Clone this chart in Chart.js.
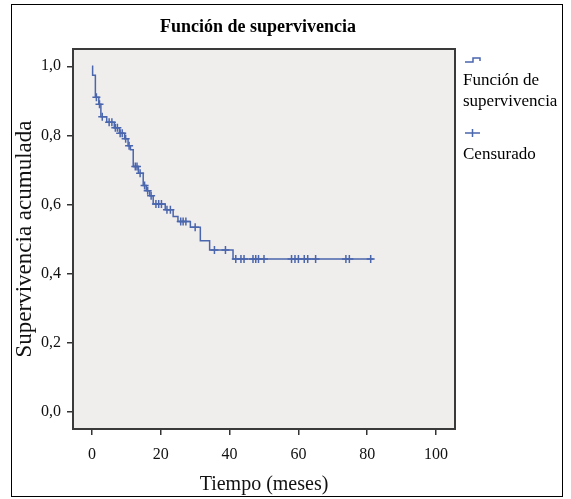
<!DOCTYPE html>
<html>
<head>
<meta charset="utf-8">
<script src="https://cdn.jsdelivr.net/npm/chart.js@4.4.0/dist/chart.umd.min.js"></script>
<style>
  html, body { margin: 0; padding: 0; background: #fff; }
  #wrap { width: 571px; height: 499px; }
</style>
</head>
<body>
<div id="wrap"><canvas id="chart" width="571" height="499"></canvas></div>
<script>
// Kaplan-Meier steps (time in months, cumulative survival)
const stepTimes = [0, 0.2, 1.0, 2.0, 2.6, 4.3, 6.5, 8.0, 9.5, 10.5, 11.2, 12.0, 13.5, 14.9, 15.8, 16.8, 17.8, 21.3, 23.6, 25.0, 28.6, 31.5, 34.2, 41.0, 81.8];
const stepSurvival = [1.0, 0.974, 0.91, 0.89, 0.854, 0.838, 0.822, 0.806, 0.79, 0.77, 0.758, 0.71, 0.69, 0.655, 0.64, 0.625, 0.601, 0.585, 0.565, 0.551, 0.534, 0.495, 0.468, 0.442, 0.442];

// censored cases
const censorTimes = [1.3, 2.2, 3.0, 5.0, 5.8, 6.8, 7.4, 8.2, 8.8, 9.8, 10.8, 12.6, 13.1, 14.0, 15.3, 16.2, 17.2, 18.6, 19.4, 20.2, 21.8, 22.8, 25.8, 26.5, 27.3, 30.0, 35.6, 38.8,
  41.8, 43.3, 44.2, 46.8, 47.6, 48.4, 50.0, 58.0, 59.0, 60.0, 61.7, 62.7, 65.0, 73.8, 74.8, 81.0];
const censorSurvival = [0.91, 0.89, 0.854, 0.838, 0.838, 0.822, 0.822, 0.806, 0.806, 0.79, 0.77, 0.71, 0.71, 0.69, 0.655, 0.64, 0.625, 0.601, 0.601, 0.601, 0.585, 0.585, 0.551, 0.551, 0.551, 0.534, 0.468, 0.468,
  0.442, 0.442, 0.442, 0.442, 0.442, 0.442, 0.442, 0.442, 0.442, 0.442, 0.442, 0.442, 0.442, 0.442, 0.442, 0.442];

const xTicks = [0, 20, 40, 60, 80, 100];
const yTicks = [0, 0.2, 0.4, 0.6, 0.8, 1.0];

const blue = '#4a66ad';
const serif = '"Liberation Serif", "DejaVu Serif", serif';

const decor = {
  id: 'decor',
  beforeDraw(chart) {
    const { ctx, chartArea: a } = chart;
    ctx.save();
    ctx.fillStyle = '#fff';
    ctx.fillRect(0, 0, chart.width, chart.height);
    ctx.fillStyle = '#f0eded';
    ctx.fillRect(a.left, a.top, a.right - a.left, a.bottom - a.top);
    ctx.restore();
  },
  afterDraw(chart) {
    const { ctx, chartArea: a } = chart;
    ctx.save();
    // plot frame
    ctx.strokeStyle = '#3a3a3a';
    ctx.lineWidth = 2;
    ctx.strokeRect(a.left, a.top, a.right - a.left, a.bottom - a.top);
    // outer frame
    ctx.strokeStyle = '#000';
    ctx.lineWidth = 1;
    ctx.strokeRect(11.5, 4.5, 551, 492);
    // title
    ctx.fillStyle = '#000';
    ctx.font = 'bold 18px ' + serif;
    ctx.textAlign = 'center';
    ctx.textBaseline = 'middle';
    ctx.fillText('Función de supervivencia', 258, 27);
    // legend
    ctx.strokeStyle = blue;
    ctx.lineWidth = 1.5;
    ctx.beginPath();
    ctx.moveTo(465, 62); ctx.lineTo(473, 62); ctx.lineTo(473, 58); ctx.lineTo(480, 58); ctx.lineTo(480, 61);
    ctx.stroke();
    ctx.beginPath();
    ctx.moveTo(465, 133); ctx.lineTo(480, 133);
    ctx.moveTo(472.5, 129); ctx.lineTo(472.5, 137);
    ctx.stroke();
    ctx.fillStyle = '#000';
    ctx.font = '17px ' + serif;
    ctx.textAlign = 'left';
    ctx.fillText('Función de', 463, 81);
    ctx.fillText('supervivencia', 463, 102);
    ctx.fillText('Censurado', 463, 155);
    ctx.restore();
  }
};

const ctx = document.getElementById('chart').getContext('2d');
const myChart = new Chart(ctx, {
  type: 'line',
  data: {
    datasets: [{
      label: 'Función de supervivencia',
      data: stepTimes.map((t, i) => ({ x: t, y: stepSurvival[i] })),
      stepped: true,
      borderColor: blue,
      borderWidth: 1.5,
      pointRadius: 0,
      fill: false
    }, {
      label: 'Censurado',
      type: 'scatter',
      data: censorTimes.map((t, i) => ({ x: t, y: censorSurvival[i] })),
      pointStyle: 'cross',
      pointRadius: 4,
      borderColor: blue,
      borderWidth: 1.5,
      showLine: false
    }]
  },
  options: {
    responsive: false,
    animation: false,
    devicePixelRatio: 1,
    layout: { padding: { left: 0, top: 49, right: 116, bottom: 0 } },
    plugins: {
      legend: { display: false },
      title: { display: false },
      tooltip: { enabled: false }
    },
    scales: {
      x: {
        type: 'linear',
        min: -5.5,
        max: 105.5,
        afterBuildTicks: s => { s.ticks = xTicks.map(v => ({ value: v })); },
        afterFit: s => { s.height = 70; },
        grid: { drawOnChartArea: false, drawTicks: true, tickLength: 6, color: '#333', lineWidth: 1.5 },
        border: { display: false },
        ticks: { padding: 10, color: '#111', font: { family: serif, size: 16 } },
        title: { display: true, text: 'Tiempo (meses)', color: '#111', font: { family: serif, size: 20 }, padding: { top: 0, bottom: 2 } }
      },
      y: {
        type: 'linear',
        min: -0.05,
        max: 1.05,
        afterBuildTicks: s => { s.ticks = yTicks.map(v => ({ value: v })); },
        afterFit: s => { s.width = 73; },
        grid: { drawOnChartArea: false, drawTicks: true, tickLength: 6, color: '#333', lineWidth: 1.5 },
        border: { display: false },
        ticks: { padding: 6, color: '#111', font: { family: serif, size: 16 }, callback: v => v.toFixed(1).replace('.', ',') },
        title: { display: true, text: 'Supervivencia acumulada', color: '#111', font: { family: serif, size: 23 }, padding: { top: 11, bottom: 0 } }
      }
    }
  },
  plugins: [decor]
});
</script>
</body>
</html>
